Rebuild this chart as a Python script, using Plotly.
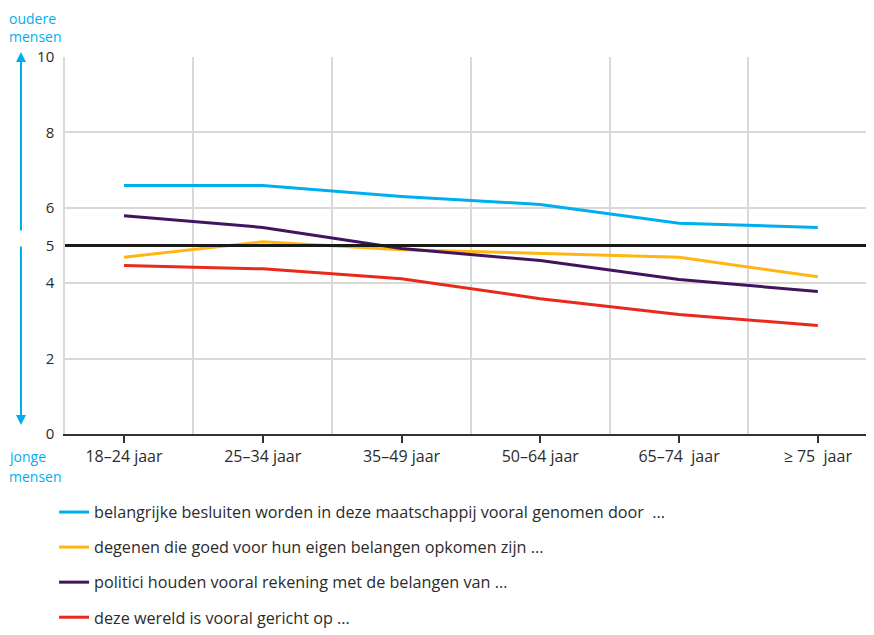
import plotly.graph_objects as go

categories = ["18–24 jaar", "25–34 jaar", "35–49 jaar", "50–64 jaar", "65–74  jaar", "≥ 75  jaar"]
series_names = [
    "belangrijke besluiten worden in deze maatschappij vooral genomen door  ...",
    "degenen die goed voor hun eigen belangen opkomen zijn ...",
    "politici houden vooral rekening met de belangen van ...",
    "deze wereld is vooral gericht op ...",
]
besluiten = [6.59, 6.59, 6.30, 6.09, 5.59, 5.48]
belangen = [4.69, 5.10, 4.89, 4.79, 4.69, 4.17]
politici = [5.79, 5.48, 4.92, 4.60, 4.10, 3.78]
wereld = [4.47, 4.38, 4.12, 3.59, 3.17, 2.88]
y_ticks = [0, 2, 4, 5, 6, 8, 10]
midline = 5

colors = ["#00aeef", "#ffb612", "#42145f", "#e8291c"]
FONT = "Open Sans"
TXT = "#2b2b2b"

x_idx = list(range(len(categories)))
fig = go.Figure()
for i, (name, vals) in enumerate(zip(series_names, [besluiten, belangen, politici, wereld])):
    fig.add_trace(go.Scatter(
        x=x_idx, y=vals, mode="lines", name=name,
        line=dict(color=colors[i], width=3),
        legendgroup=f"g{i}", hoverinfo="skip",
    ))

fig.add_shape(type="line", xref="paper", yref="y", x0=0, x1=1, y0=midline, y1=midline,
              line=dict(color="#1a1a1a", width=3), layer="above")

PW = 809
PH = 377


def py(p):
    return (434 - p) / PH


arrow_x = (21 - 65) / PW
fig.add_annotation(xref="paper", yref="paper", x=arrow_x, y=1.013, ax=0, ay=180,
                   axref="pixel", ayref="pixel", showarrow=True, arrowhead=2, arrowsize=1,
                   arrowwidth=2, arrowcolor=colors[0], text="")
fig.add_annotation(xref="paper", yref="paper", x=arrow_x, y=0.024, ax=0, ay=-180,
                   axref="pixel", ayref="pixel", showarrow=True, arrowhead=2, arrowsize=1,
                   arrowwidth=2, arrowcolor=colors[0], text="")
for word, pix in [("oudere", 18), ("mensen", 37), ("jonge", 456), ("mensen", 476)]:
    fig.add_annotation(xref="paper", yref="paper", x=(8 - 65) / PW, y=py(pix),
                       xanchor="left", yanchor="middle", text=word, showarrow=False,
                       borderpad=0, font=dict(family=FONT, size=14, color=colors[0]))

fig.update_layout(
    width=866, height=627,
    margin=dict(l=57, r=0, t=49, b=193),
    paper_bgcolor="white", plot_bgcolor="white",
    font=dict(family=FONT, size=15, color=TXT),
    showlegend=True,
    legend=dict(x=-0.0135, y=-0.162, xanchor="left", yanchor="top", orientation="v",
                tracegroupgap=11, font=dict(family=FONT, size=16.2, color=TXT),
                bgcolor="rgba(0,0,0,0)"),
    xaxis=dict(
        range=[-0.425, 5.405], tickmode="array", tickvals=x_idx, ticktext=categories,
        showgrid=False, zeroline=False, showline=True, linecolor="#333333", linewidth=2,
        ticks="outside", ticklen=7, tickcolor="#333333", tickwidth=1.5,
        tickfont=dict(family=FONT, size=16, color=TXT),
        minor=dict(tickvals=[0.5, 1.5, 2.5, 3.5, 4.5], showgrid=True, gridcolor="#d9d9d9",
                   gridwidth=1.5, ticks=""),
    ),
    yaxis=dict(
        range=[0, 10], tickmode="array", tickvals=y_ticks, showgrid=True,
        gridcolor="#d9d9d9", gridwidth=1.5, zeroline=False, showline=True,
        linecolor="#d9d9d9", linewidth=1.5, ticks="", ticklabelstandoff=6,
        tickfont=dict(family=FONT, size=15, color=TXT),
    ),
)

fig.write_html("out.html")
